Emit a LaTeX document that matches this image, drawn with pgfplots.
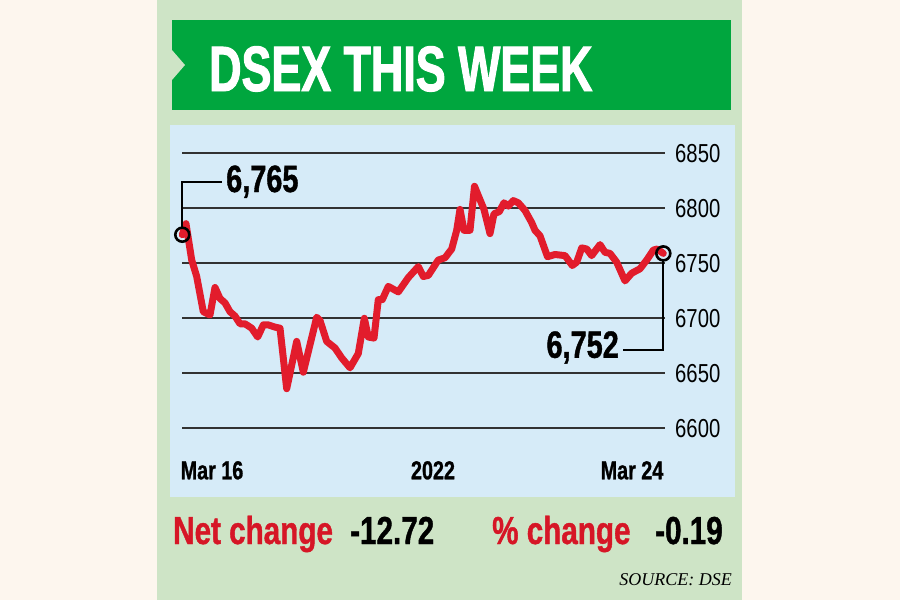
\documentclass[border=0pt]{standalone}
\usepackage{pgfplots}
\usepackage{pgfplotstable}
\pgfplotsset{compat=1.18}
\usepackage{fontspec}
\setmainfont{Liberation Sans}
\newfontfamily\cond[FakeStretch=0.78]{Liberation Sans}
\newfontfamily\condb[FakeStretch=0.76,FakeBold=1.0]{Liberation Sans}
\newfontfamily\condt[FakeStretch=0.70,FakeBold=1.5]{Liberation Sans}
\newfontfamily\srcfont{Liberation Serif}

\definecolor{cream}{RGB}{253,246,238}
\definecolor{panelgreen}{RGB}{206,228,198}
\definecolor{titlegreen}{RGB}{0,166,62}
\definecolor{panelblue}{RGB}{214,235,248}
\definecolor{linered}{RGB}{226,28,44}
\definecolor{textred}{RGB}{214,22,38}
\definecolor{gridgray}{RGB}{50,50,50}

% DSEX intraday (x = position along the week)
\pgfplotstableread{
x y
182.3 6776
186.0 6786
191.7 6753
196.7 6738
203.3 6706
210.0 6703
215.0 6728
220.0 6718
225.0 6714
230.0 6706
235.0 6702
240.0 6695
245.0 6695
251.7 6691
257.7 6683
263.3 6694
268.3 6694
275.0 6692
280.0 6691
286.7 6636
296.7 6679
303.3 6651
316.7 6701
320.0 6698
326.7 6679
335.0 6673
341.7 6664
350.0 6655
358.3 6668
364.3 6700
368.3 6683
374.0 6682
378.3 6717
382.3 6717
388.3 6729
398.3 6724
408.3 6737
418.3 6747
423.3 6738
428.3 6739
438.3 6753
445.0 6755
451.7 6763
456.7 6780
460.0 6799
464.0 6780
470.0 6780
474.5 6820
479.0 6810
484.0 6799
490.0 6777
494.0 6795
499.3 6797
504.0 6805
508.3 6802
513.3 6807
518.3 6805
525.0 6798
531.7 6787
535.0 6780
540.0 6775
547.5 6756
555.0 6758
565.0 6757
572.3 6748
576.7 6751
581.7 6764
586.7 6763
591.7 6757
600.0 6767
605.0 6760
610.0 6759
616.7 6751
625.0 6734
631.7 6741
640.0 6745
646.7 6753
653.3 6762
657.3 6763
663.3 6759
}\dsex

\begin{document}
\begin{tikzpicture}
% panels
\fill[cream] (0,0) rectangle (900pt,-600pt);
\fill[panelgreen] (157pt,0) rectangle (742pt,-600pt);
\fill[titlegreen] (172pt,-20pt) rectangle (731pt,-110pt);
\fill[panelgreen] (172pt,-50pt) -- (185pt,-65pt) -- (172pt,-80pt) -- cycle;
\fill[panelblue] (170pt,-125pt) rectangle (735pt,-497pt);
\node[anchor=base west, inner sep=0pt, text=white,
      font=\condt\bfseries\fontsize{64}{64}\selectfont] at (209pt,-91pt) {DSEX THIS WEEK};

\begin{axis}[
  at={(182pt,-428.3pt)}, anchor=south west,
  scale only axis, width=483pt, height=275pt,
  xmin=182, xmax=665, ymin=6600, ymax=6850,
  axis line style={draw=none},
  major tick length=0pt,
  ytick={6600,6650,...,6850},
  ymajorgrids, grid style={gridgray, line width=2pt},
  yticklabel pos=right,
  yticklabel style={anchor=west, inner sep=0pt, xshift=10pt,
    font=\cond\fontsize{26}{26}\selectfont},
  /pgf/number format/assume math mode=true,
  /pgf/number format/1000 sep={},
  xtick={212,433,632}, xticklabels={Mar 16,2022,Mar 24},
  xticklabel style={anchor=base, inner sep=0pt, yshift=-51pt,
    font=\condb\bfseries\fontsize{26}{26}\selectfont},
  clip=false,
]
\addplot[linered, line width=7pt, line join=round, line cap=round] table {\dsex};
\addplot[only marks, mark=o, mark size=7pt, mark options={draw=black, line width=2.6pt}]
  coordinates {(182.3,6776) (663.3,6759)};
% leader lines and value labels
\draw[black, line width=2.2pt] (axis cs:182.3,6783) -- (axis cs:182.3,6824.2) -- (axis cs:221.7,6824.2);
\node[anchor=west, inner sep=0pt, font=\condb\bfseries\fontsize{38}{38}\selectfont]
  at (axis cs:226,6824.2) {6,765};
\draw[black, line width=2.2pt] (axis cs:663.3,6752) -- (axis cs:663.3,6671.2) -- (axis cs:623,6671.2);
\node[anchor=east, inner sep=0pt, font=\condb\bfseries\fontsize{38}{38}\selectfont]
  at (axis cs:619,6673.5) {6,752};
\end{axis}

% summary
\node[anchor=base west, inner sep=0pt, text=textred,
      font=\condb\bfseries\fontsize{39}{39}\selectfont] at (173pt,-544pt) {Net change};
\node[anchor=base west, inner sep=0pt,
      font=\condb\bfseries\fontsize{39}{39}\selectfont] at (350pt,-544pt) {-12.72};
\node[anchor=base west, inner sep=0pt, text=textred,
      font=\condb\bfseries\fontsize{39}{39}\selectfont] at (492pt,-544pt) {\% change};
\node[anchor=base west, inner sep=0pt,
      font=\condb\bfseries\fontsize{39}{39}\selectfont] at (655pt,-544pt) {-0.19};
\node[anchor=base east, inner sep=0pt,
      font=\srcfont\itshape\fontsize{18}{18}\selectfont] at (732pt,-585pt) {SOURCE: DSE};
\end{tikzpicture}
\end{document}
